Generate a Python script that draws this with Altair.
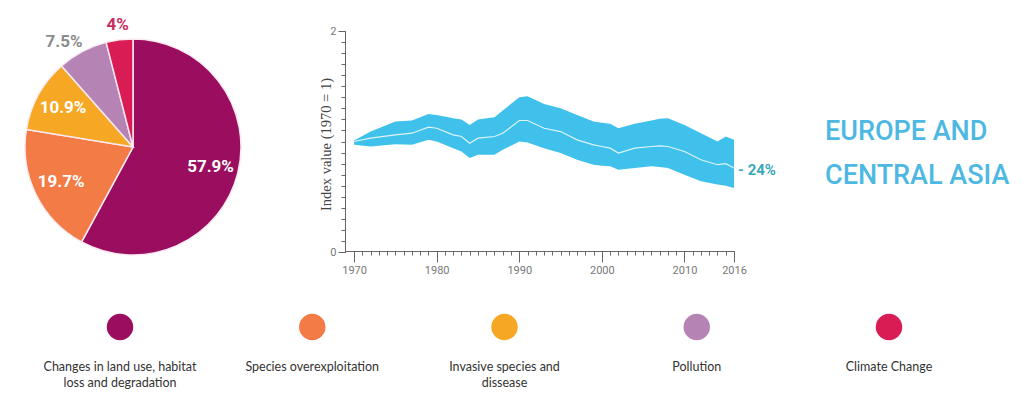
import altair as alt
import pandas as pd

# ---------------- data ----------------
keys = ["land", "overexploit", "invasive", "pollution", "climate"]
legend_labels = [
    "Changes in land use, habitat\nloss and degradation",
    "Species overexploitation",
    "Invasive species and\ndissease",
    "Pollution",
    "Climate Change",
]
shares = [57.9, 19.7, 10.9, 7.5, 4.0]
share_labels = ["57.9%", "19.7%", "10.9%", "7.5%", "4%"]
colors = ["#9B0D5E", "#F27B46", "#F6A723", "#B683B5", "#D91C53"]

years = [1970, 1972, 1975, 1977, 1979, 1980, 1982, 1983, 1984, 1985, 1987, 1988,
         1990, 1991, 1993, 1995, 1997, 1999, 2000, 2001, 2002, 2004, 2006, 2007,
         2008, 2010, 2012, 2014, 2015, 2016]
mid = [1.00, 1.03, 1.06, 1.075, 1.13, 1.12, 1.06, 1.045, 0.985, 1.03, 1.045, 1.075,
       1.19, 1.19, 1.12, 1.09, 1.015, 0.97, 0.955, 0.94, 0.895, 0.94, 0.955, 0.96,
       0.955, 0.91, 0.835, 0.79, 0.80, 0.76]
upper = [1.01, 1.09, 1.18, 1.19, 1.25, 1.24, 1.21, 1.20, 1.15, 1.20, 1.22, 1.28,
         1.40, 1.41, 1.34, 1.30, 1.24, 1.18, 1.17, 1.16, 1.12, 1.16, 1.19, 1.205,
         1.21, 1.15, 1.075, 1.00, 1.045, 1.015]
lower = [0.97, 0.955, 0.975, 0.97, 1.015, 1.00, 0.94, 0.91, 0.85, 0.88, 0.88, 0.925,
         1.00, 0.99, 0.94, 0.895, 0.835, 0.79, 0.78, 0.775, 0.745, 0.76, 0.775, 0.77,
         0.76, 0.70, 0.64, 0.61, 0.60, 0.58]
x_labels = [1970, 1980, 1990, 2000, 2010, 2016]
y_labels = [0, 1, 2]
title_text = "EUROPE AND\nCENTRAL ASIA"
y_title = "Index value (1970 = 1)"

# ---------------- tables ----------------
pie_df = pd.DataFrame({"key": keys, "share": shares, "label": share_labels,
                       "legend": legend_labels})
ldf = pd.DataFrame({"year": years, "mid": mid, "hi": upper, "lo": lower})

COND = "Roboto"
color_scale = alt.Scale(domain=keys, range=colors)

# ---------------- pie ----------------
PX, PY = 125, 139
base = alt.Chart(pie_df).transform_window(idx="row_number()").encode(
    theta=alt.Theta("share:Q", stack=True),
    order=alt.Order("idx:Q"),
    x=alt.value(PX), y=alt.value(PY),
)
arcs = base.mark_arc(outerRadius=108, stroke="#fbe9f1", strokeWidth=1.5).encode(
    color=alt.Color("key:N", scale=color_scale, legend=None)
)
inner = base.transform_calculate(t="datum.idx <= 3 ? datum.label : ''").mark_text(
    radius=80, font=COND, fontSize=17, fontWeight="bold", color="white"
).encode(text="t:N", detail="key:N")
poll = base.transform_calculate(t="datum.idx == 4 ? datum.label : ''").mark_text(
    radius=126, dx=-10, dy=6, font=COND, fontSize=17, fontWeight="bold", color="#8C8C8C"
).encode(text="t:N", detail="key:N")
clim = base.transform_calculate(t="datum.idx == 5 ? datum.label : ''").mark_text(
    radius=123, font=COND, fontSize=17, fontWeight="bold", color="#C72E62"
).encode(text="t:N", detail="key:N")

# ---------------- index chart ----------------
xs = alt.Scale(domain=[1968.9, 2016], range=[337, 726], nice=False, zero=False)
ys = alt.Scale(domain=[0, 2], range=[244, 23], nice=False, zero=False)
AX = dict(grid=False, domainColor="#666", tickColor="#666", domainWidth=1, tickWidth=1)

band = alt.Chart(ldf).mark_area(color="#3FC1EC", opacity=1).encode(
    x=alt.X("year:Q", scale=xs, axis=alt.Axis(orient="bottom", offset=-140,
            values=list(range(1970, 2017)), labels=False, tickSize=4, title=None, **AX)),
    y=alt.Y("lo:Q", scale=ys, axis=alt.Axis(orient="left", offset=-337,
            values=[i / 10 for i in range(21)], labels=False, tickSize=4, title=None, **AX)),
    y2="hi:Q",
)
line = alt.Chart(ldf).mark_line(color="#DDF4FB", strokeWidth=1.2).encode(
    x=alt.X("year:Q", scale=xs, axis=alt.Axis(orient="bottom", offset=-140,
            values=x_labels, format="d", tickSize=11, labelPadding=2, labelFont=COND,
            labelFontSize=11, labelColor="#777", labelFlush=False, labelOverlap=False,
            title=None, **AX)),
    y=alt.Y("mid:Q", scale=ys, axis=alt.Axis(orient="left", offset=-337,
            values=y_labels, format="d", tickSize=7, labelPadding=2, labelFont=COND,
            labelFontSize=11, labelColor="#777", title=y_title,
            titleFont="Liberation Serif", titleFontSize=14.5, titleFontWeight="normal",
            titleColor="#444", titleX=-19, titleY=136, titleAngle=270,
            titleAlign="center", titleBaseline="middle", **AX)),
)
pct = alt.Chart(ldf).transform_filter("datum.year == 2016").transform_calculate(
    t="'- ' + format(abs(datum.mid - 1) * 100, '.0f') + '%'"
).mark_text(align="left", dx=4, dy=2, font=COND, fontSize=15, fontWeight="bold",
            color="#3BA9B9").encode(
    x=alt.X("year:Q", scale=xs, axis=None),
    y=alt.Y("mid:Q", scale=ys, axis=None),
    text="t:N",
)

# ---------------- legend row ----------------
lx = alt.Scale(type="point", domain=keys, range=[112, 881], padding=0)
leg = alt.Chart(pie_df).encode(x=alt.X("key:N", scale=lx, axis=None))
dots = leg.mark_circle(size=700, opacity=1).encode(
    y=alt.value(319), color=alt.Color("key:N", scale=color_scale, legend=None)
)
ltext = leg.mark_text(lineBreak="\n", lineHeight=16.5, baseline="alphabetic",
                      font="Lato", fontSize=12.5, color="#333").encode(
    y=alt.value(362.7), text="legend:N"
)

# ---------------- title ----------------
title = alt.Chart(pd.DataFrame({"t": [title_text]})).mark_text(
    align="left", baseline="alphabetic", lineBreak="\n", lineHeight=44,
    font=COND, fontSize=27, fontWeight=500, color="#4DB9E2"
).encode(x=alt.value(817), y=alt.value(132), text="t:N")

chart = alt.layer(arcs, inner, poll, clim, band, line, pct, dots, ltext, title).resolve_scale(
    x="independent", y="independent", color="independent"
).properties(
    width=1008, height=383, autosize=alt.AutoSizeParams(type="none"), padding=0
).configure_view(stroke=None)

chart.save("out.html", embed_options={"renderer": "svg", "actions": False})
